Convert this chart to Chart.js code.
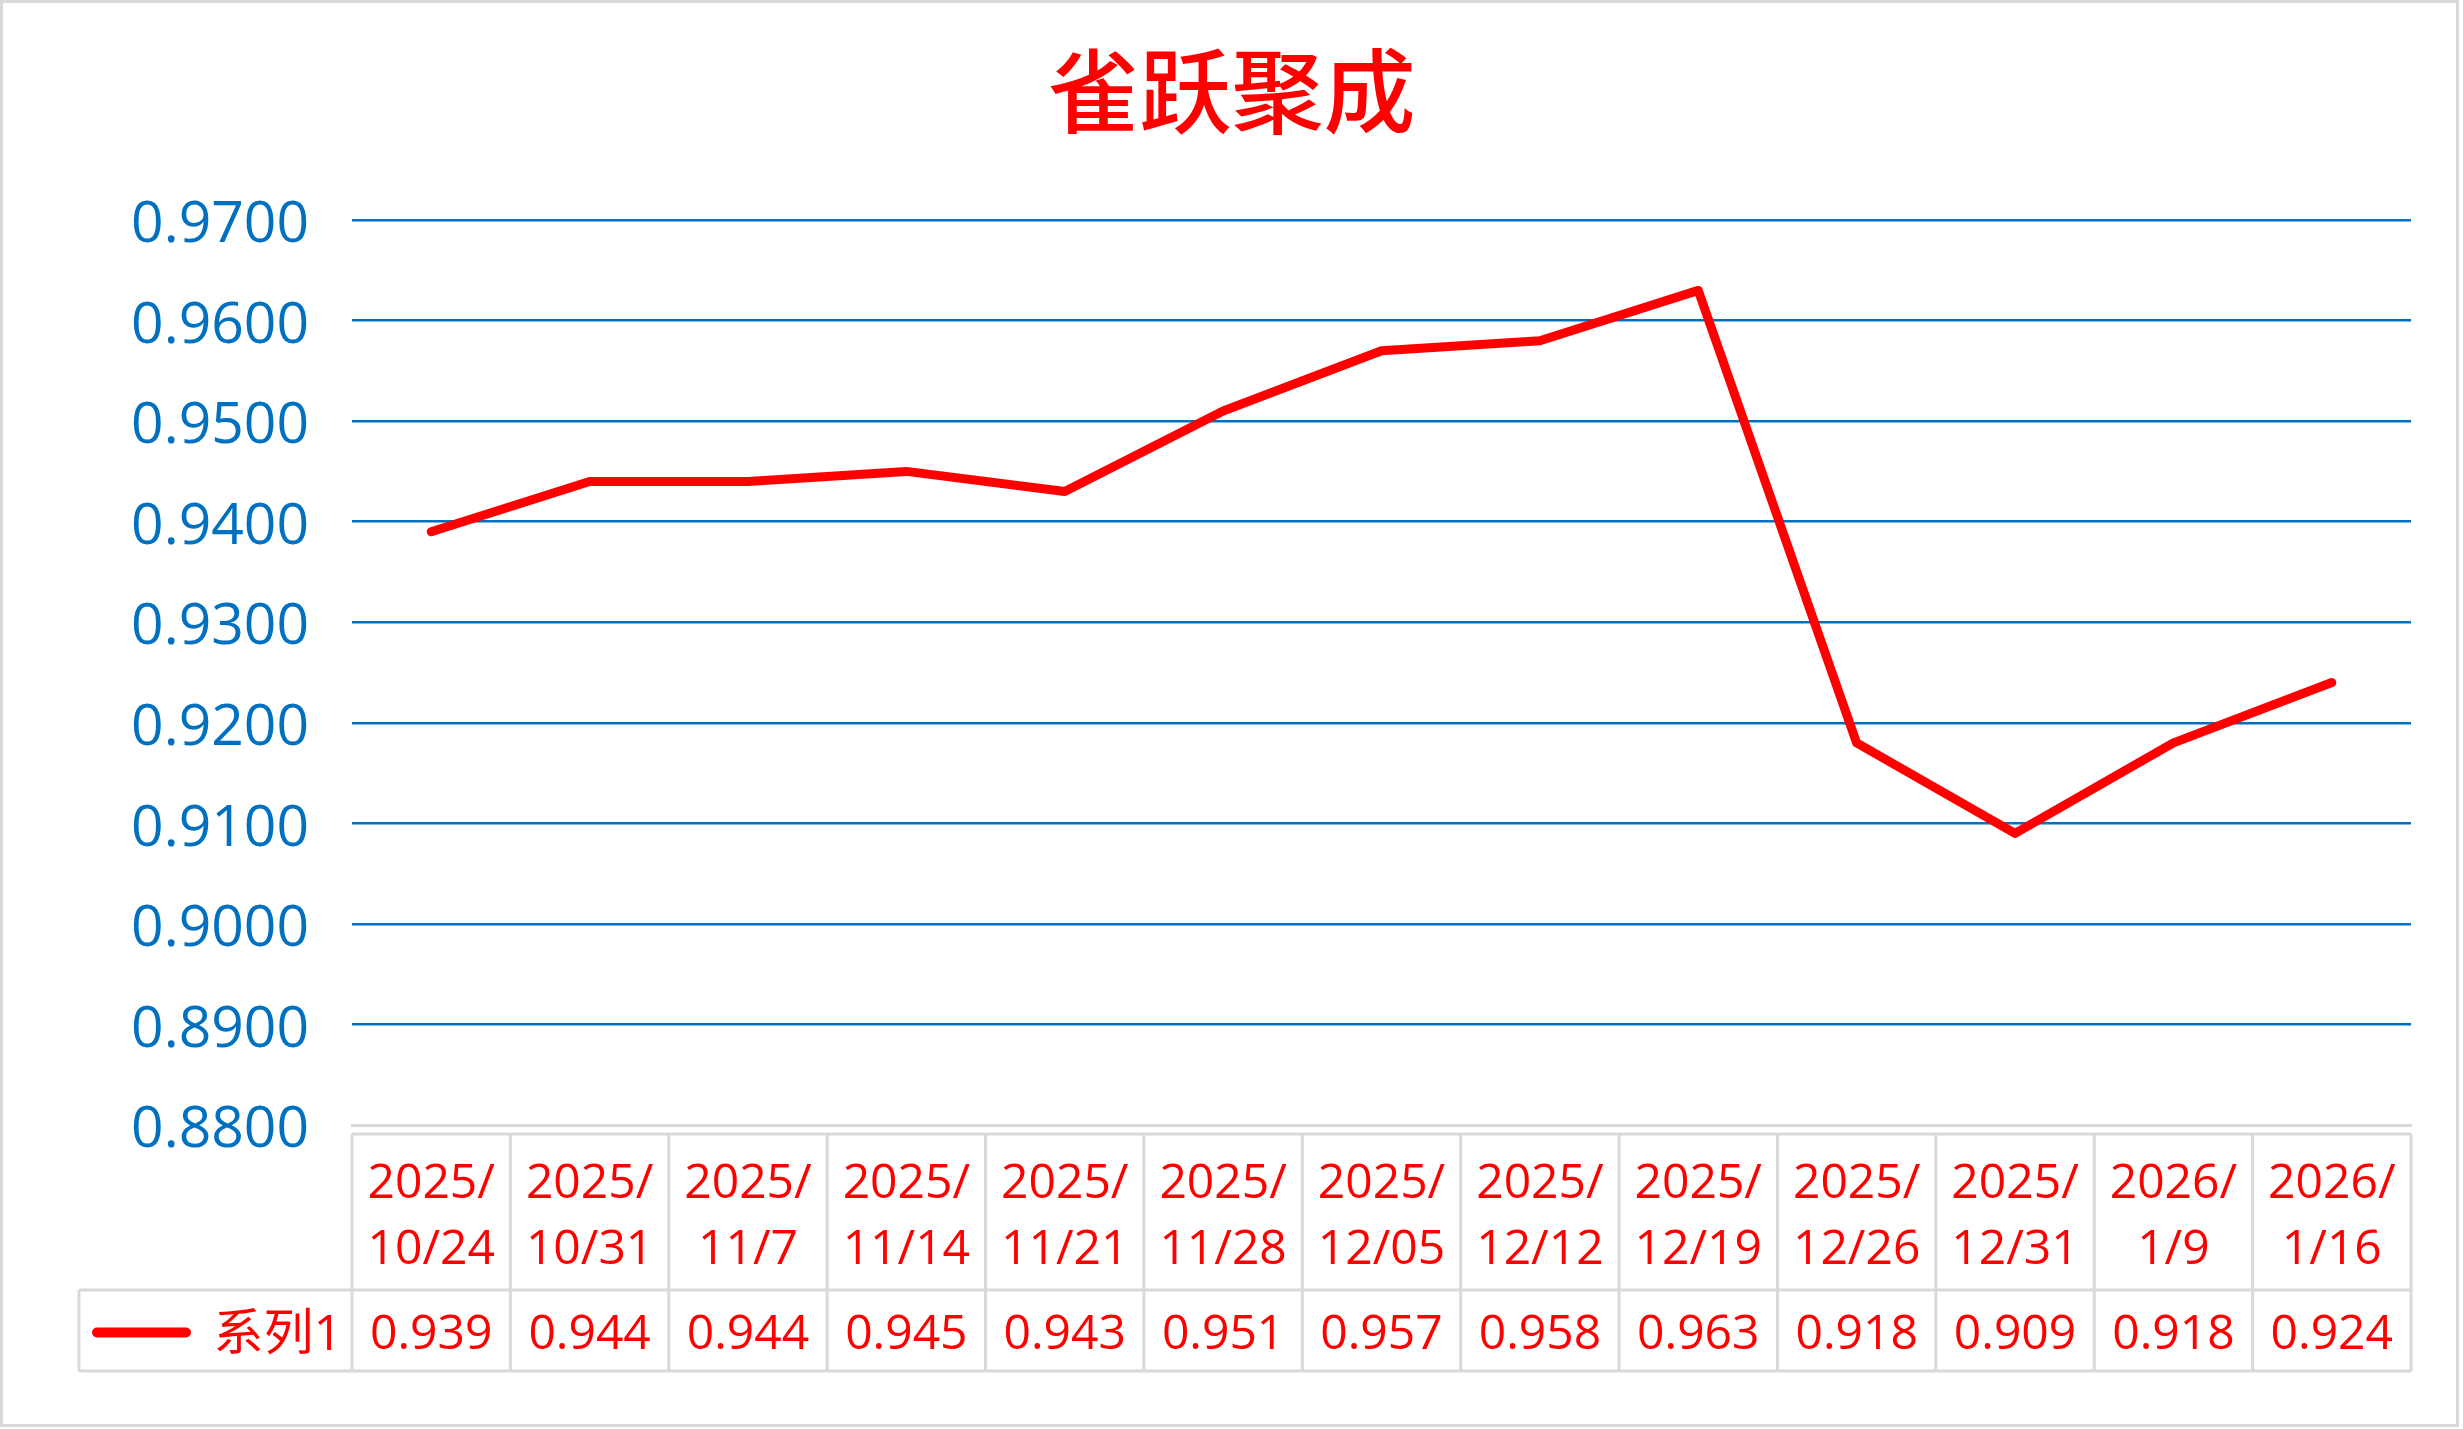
<!DOCTYPE html>
<html>
<head>
<meta charset="utf-8">
<style>
  html, body { margin: 0; padding: 0; background: #fff; }
  canvas { display: block; }
</style>
<script src="https://cdn.jsdelivr.net/npm/chart.js@4"></script>
</head>
<body>
<canvas id="chart" width="2463" height="1429"></canvas>
<script>
// chart data
const chartTitle = '雀跃聚成';
const seriesName = '系列1';
const dates = [
  ['2025/', '10/24'], ['2025/', '10/31'], ['2025/', '11/7'], ['2025/', '11/14'],
  ['2025/', '11/21'], ['2025/', '11/28'], ['2025/', '12/05'], ['2025/', '12/12'],
  ['2025/', '12/19'], ['2025/', '12/26'], ['2025/', '12/31'], ['2026/', '1/9'],
  ['2026/', '1/16']
];
const values = [0.939, 0.944, 0.944, 0.945, 0.943, 0.951, 0.957, 0.958, 0.963, 0.918, 0.909, 0.918, 0.924];
const yMin = 0.88;
const yMax = 0.97;
const yStep = 0.01;

const RED = '#ff0000';
const BLUE = '#0070c0';
const GRAY = '#d9d9d9';
const FONT = '"Open Sans", "Noto Sans CJK SC", sans-serif';

// data table under the plot + outer frame
const dataTablePlugin = {
  id: 'dataTable',
  afterDraw(chart) {
    const { ctx, chartArea, scales: { x } } = chart;
    const half = (x.getPixelForValue(1) - x.getPixelForValue(0)) / 2;
    const left = chartArea.left;
    const right = chartArea.right;
    const tableTop = chartArea.bottom + 9;
    const rowSep = chartArea.bottom + 165;
    const tableBottom = chartArea.bottom + 246;
    const legendLeft = 79;

    ctx.save();
    ctx.strokeStyle = GRAY;
    ctx.lineWidth = 3;
    ctx.beginPath();
    ctx.moveTo(left, tableTop); ctx.lineTo(right, tableTop);
    ctx.moveTo(legendLeft, rowSep); ctx.lineTo(right, rowSep);
    ctx.moveTo(legendLeft, tableBottom); ctx.lineTo(right, tableBottom);
    ctx.moveTo(legendLeft, rowSep); ctx.lineTo(legendLeft, tableBottom);
    ctx.moveTo(left, tableTop); ctx.lineTo(left, tableBottom);
    values.forEach((v, i) => {
      const xr = x.getPixelForValue(i) + half;
      ctx.moveTo(xr, tableTop); ctx.lineTo(xr, tableBottom);
    });
    ctx.stroke();

    // value row
    const rowMid = (rowSep + tableBottom) / 2 + 5;
    ctx.fillStyle = RED;
    ctx.font = '48px ' + FONT;
    ctx.textAlign = 'center';
    ctx.textBaseline = 'middle';
    values.forEach((v, i) => {
      ctx.fillText(v.toFixed(3), x.getPixelForValue(i), rowMid);
    });

    // legend key
    ctx.strokeStyle = RED;
    ctx.lineWidth = 10;
    ctx.lineCap = 'round';
    ctx.beginPath();
    ctx.moveTo(97, rowMid - 3); ctx.lineTo(186, rowMid - 3);
    ctx.stroke();
    ctx.textAlign = 'right';
    ctx.font = '50px ' + FONT;
    ctx.fillText(seriesName, left - 10, rowMid);

    // outer frame
    ctx.strokeStyle = GRAY;
    ctx.lineWidth = 3;
    ctx.strokeRect(1.5, 1.5, 2456, 1424);
    ctx.restore();
  }
};

new Chart(document.getElementById('chart'), {
  type: 'line',
  data: {
    labels: dates,
    datasets: [{
      label: seriesName,
      data: values,
      borderColor: RED,
      borderWidth: 9,
      borderCapStyle: 'round',
      borderJoinStyle: 'round',
      pointRadius: 0,
      tension: 0,
      fill: false
    }]
  },
  options: {
    responsive: false,
    animation: false,
    layout: { padding: { left: 52, right: 52, top: 0, bottom: 0 } },
    plugins: {
      legend: { display: false },
      tooltip: { enabled: false },
      title: {
        display: true,
        text: chartTitle,
        color: RED,
        font: { family: '"Noto Sans CJK SC", serif', size: 92, weight: '500', lineHeight: 1.2 },
        padding: { top: 36, bottom: 73.6 }
      }
    },
    scales: {
      x: {
        offset: true,
        grid: { display: false, drawTicks: false },
        border: { display: true, color: GRAY, width: 3 },
        afterFit: (scale) => { scale.height = 304; },
        ticks: {
          color: RED,
          autoSkip: false,
          maxRotation: 0,
          padding: 26,
          font: { family: FONT, size: 48, lineHeight: 1.375 }
        }
      },
      y: {
        min: yMin,
        max: yMax,
        afterFit: (scale) => { scale.width = 300; },
        grid: {
          drawTicks: false,
          lineWidth: 2.5,
          color: (c) => c.index === 0 ? 'rgba(0,0,0,0)' : BLUE
        },
        border: { display: false },
        ticks: {
          stepSize: yStep,
          color: BLUE,
          padding: 43,
          labelOffset: 6,
          font: { family: FONT, size: 57 },
          callback: (v) => Number(v).toFixed(4)
        }
      }
    }
  },
  plugins: [dataTablePlugin]
});
</script>
</body>
</html>
